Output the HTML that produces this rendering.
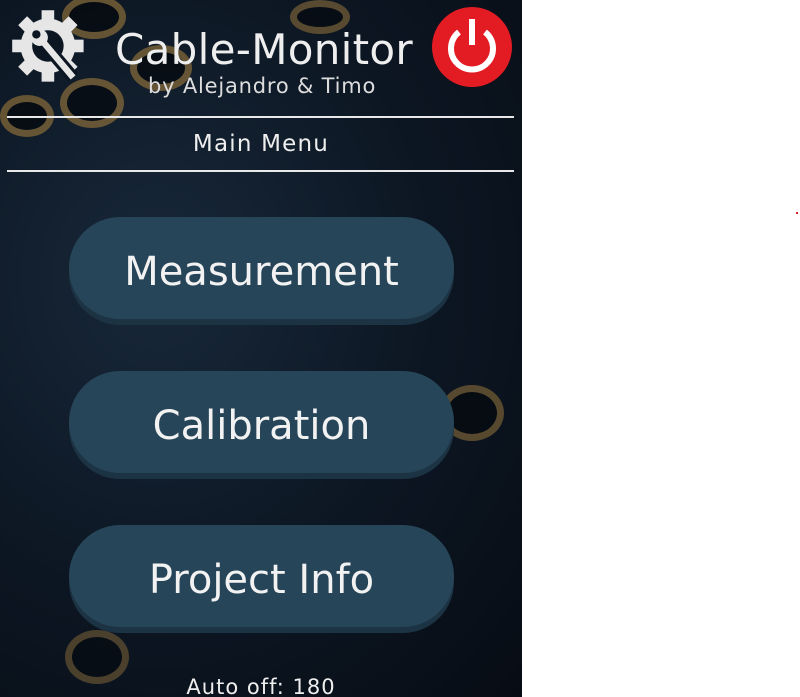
<!DOCTYPE html>
<html><head><meta charset="utf-8"><style>
body{margin:0;width:800px;height:697px;background:#fff;position:relative;overflow:hidden;font-family:"DejaVu Sans","Liberation Sans",sans-serif}
#panel{position:absolute;left:0;top:0;width:522px;height:697px;background:radial-gradient(ellipse at 30% 40%,#18283a 0%,#0c1622 55%,#070c14 100%);overflow:hidden}
.ring{position:absolute;border-radius:50%;border:7px solid #8a6d3a;opacity:.7;background:#05080c}
.t{position:absolute;color:#eee;white-space:nowrap}
.btn{position:absolute;left:69px;width:385px;height:102px;border-radius:51px;background:#274558;box-shadow:0 6px 0 #1c3344;color:#f2f2f2;font-size:40px;display:flex;align-items:center;justify-content:center;padding-top:8px;box-sizing:border-box}
.line{position:absolute;left:7px;width:507px;height:2px;background:#e8e8e8}
</style></head><body>
<div id="panel">
<div class="ring" style="left:0;top:95px;width:40px;height:28px"></div>
<div class="ring" style="left:62px;top:-5px;width:50px;height:30px"></div>
<div class="ring" style="left:60px;top:78px;width:50px;height:36px"></div>
<div class="ring" style="left:130px;top:45px;width:48px;height:32px"></div>
<div class="ring" style="left:440px;top:385px;width:50px;height:42px;opacity:.6"></div>
<div class="ring" style="left:65px;top:630px;width:50px;height:40px;opacity:.5"></div>
<div class="ring" style="left:290px;top:0;width:46px;height:20px;opacity:.6"></div>
<svg style="position:absolute;left:8px;top:5px" width="84" height="84" viewBox="0 0 80 78">
<g fill="#e6e6e6"><circle cx="38" cy="38" r="26"/>
<g id="tooth"><rect x="32" y="4" width="12" height="12"/></g>
<use href="#tooth" transform="rotate(45 38 38)"/><use href="#tooth" transform="rotate(90 38 38)"/><use href="#tooth" transform="rotate(135 38 38)"/><use href="#tooth" transform="rotate(180 38 38)"/><use href="#tooth" transform="rotate(225 38 38)"/><use href="#tooth" transform="rotate(270 38 38)"/><use href="#tooth" transform="rotate(315 38 38)"/></g>
<circle cx="38" cy="38" r="15" fill="#0c1622"/>
<path d="M28 28 L62 68" stroke="#0c1622" stroke-width="12"/><path d="M30 30 L62 68" stroke="#e6e6e6" stroke-width="6"/><circle cx="30" cy="30" r="8" fill="#e6e6e6"/><circle cx="27" cy="27" r="4" fill="#0c1622"/>
</svg>
<div class="t" style="left:115px;top:25px;font-size:42px;letter-spacing:0.3px">Cable-Monitor</div>
<div class="t" style="left:148px;top:74px;font-size:21px;letter-spacing:0.8px;color:#ddd">by Alejandro &amp; Timo</div>
<svg style="position:absolute;left:432px;top:7px" width="80" height="80">
<circle cx="40" cy="40" r="40" fill="#e31b23"/>
<path d="M27 25 A21 21 0 1 0 53 25" fill="none" stroke="#fff" stroke-width="6"/><rect x="37" y="12" width="6" height="26" fill="#fff"/></svg>
<div class="line" style="top:116px"></div>
<div class="t" style="left:0;width:522px;text-align:center;top:131px;font-size:23px;letter-spacing:1.2px">Main Menu</div>
<div class="line" style="top:170px"></div>
<div class="btn" style="top:217px">Measurement</div>
<div class="btn" style="top:371px">Calibration</div>
<div class="btn" style="top:525px">Project Info</div>
<div class="t" style="left:0;width:522px;text-align:center;top:675px;font-size:21px;letter-spacing:1px">Auto off: 180</div>
</div>
<div style="position:absolute;left:796px;top:212px;width:2px;height:2px;background:#e02020"></div>
</body></html>
